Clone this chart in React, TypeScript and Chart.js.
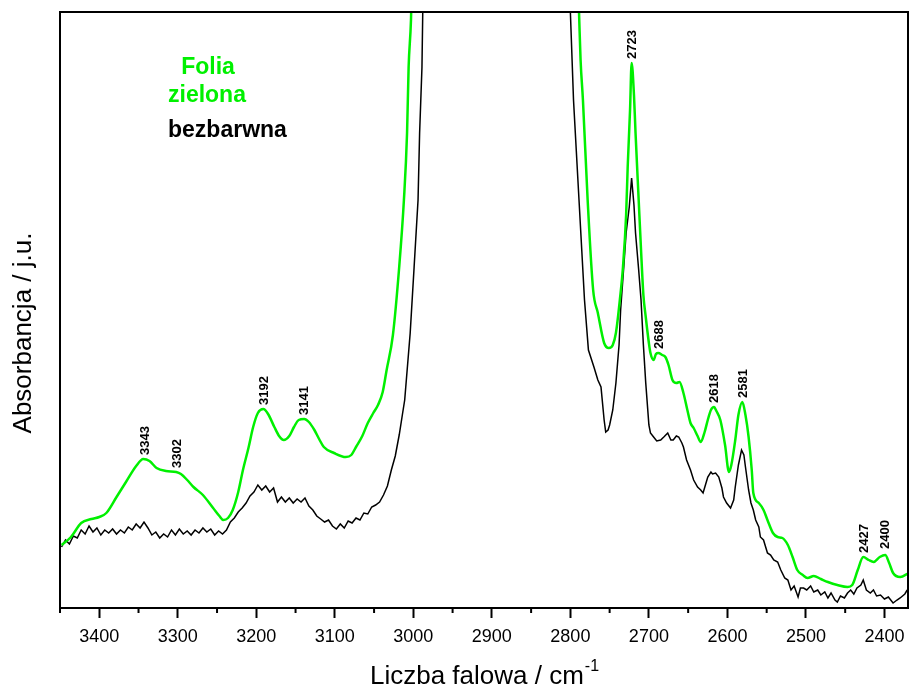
import React, { useEffect, useRef } from "react";
import { Chart, registerables } from "chart.js";

Chart.register(...registerables);

// Green foil ("Folia zielona") – wavenumber (cm-1) and absorbance (a.u.)
const greenWn = [
  3448, 3436, 3423, 3410, 3400, 3391, 3378, 3366, 3353, 3344, 3336, 3327, 3315, 3302, 3296, 3288, 3280, 3268,
  3255, 3247, 3242, 3236, 3230, 3223, 3217, 3210, 3204, 3198, 3191, 3185, 3177, 3171, 3165, 3158, 3152, 3146,
  3139, 3133, 3126, 3120, 3114, 3101, 3086, 3079, 3073, 3065, 3058, 3051, 3045, 3039, 3034, 3026, 3018, 3012,
  3008, 3006, 3003, 2998, 2990, 2796, 2789, 2787, 2784, 2778, 2771, 2765, 2757, 2751, 2746, 2742, 2737, 2733,
  2729, 2727, 2724, 2722, 2719, 2717, 2713, 2710, 2707, 2704, 2700, 2698, 2694, 2691, 2688, 2683, 2679, 2675,
  2670, 2665, 2661, 2656, 2651, 2647, 2643, 2638, 2634, 2629, 2625, 2621, 2617, 2614, 2609, 2603, 2598, 2595,
  2590, 2586, 2581, 2577, 2573, 2569, 2567, 2560, 2554, 2549, 2542, 2536, 2530, 2523, 2517, 2511, 2504, 2498,
  2490, 2481, 2472, 2460, 2447, 2441, 2434, 2427, 2420, 2414, 2406, 2399, 2394, 2389, 2380, 2369,
];
const greenAbs = [
  0.063, 0.071, 0.085, 0.089, 0.091, 0.095, 0.111, 0.126, 0.142, 0.149, 0.147, 0.14, 0.137, 0.136, 0.134, 0.128, 0.121, 0.113,
  0.1, 0.092, 0.088, 0.09, 0.098, 0.116, 0.138, 0.16, 0.181, 0.195, 0.199, 0.194, 0.181, 0.172, 0.168, 0.172, 0.181, 0.188,
  0.189, 0.186, 0.178, 0.169, 0.161, 0.155, 0.151, 0.153, 0.161, 0.172, 0.185, 0.195, 0.203, 0.216, 0.238, 0.273, 0.341, 0.408,
  0.475, 0.541, 0.588, 0.75, 0.95, 0.75, 0.596, 0.548, 0.508, 0.408, 0.318, 0.295, 0.265, 0.26, 0.263, 0.275, 0.308, 0.341,
  0.393, 0.441, 0.498, 0.545, 0.513, 0.475, 0.408, 0.358, 0.313, 0.291, 0.265, 0.255, 0.248, 0.254, 0.255, 0.253, 0.251, 0.243,
  0.228, 0.225, 0.226, 0.215, 0.198, 0.185, 0.18, 0.172, 0.166, 0.176, 0.188, 0.198, 0.201, 0.197, 0.188, 0.163, 0.136, 0.143,
  0.168, 0.193, 0.206, 0.193, 0.171, 0.138, 0.115, 0.105, 0.098, 0.088, 0.075, 0.071, 0.07, 0.063, 0.051, 0.038, 0.033, 0.03,
  0.032, 0.029, 0.026, 0.023, 0.021, 0.023, 0.038, 0.051, 0.048, 0.046, 0.051, 0.053, 0.045, 0.035, 0.031, 0.035,
];

// Colourless foil ("bezbarwna")
const blackWn = [
  3448, 3443, 3438, 3433, 3428, 3423, 3418, 3413, 3408, 3403, 3398, 3393, 3388, 3383, 3378, 3373, 3368, 3363, 3358, 3353,
  3348, 3343, 3338, 3333, 3328, 3323, 3318, 3313, 3308, 3303, 3298, 3293, 3288, 3283, 3278, 3273, 3268, 3263, 3258, 3253,
  3248, 3243, 3238, 3233, 3228, 3223, 3218, 3213, 3208, 3203, 3198, 3193, 3188, 3183, 3178, 3173, 3168, 3163, 3158, 3153,
  3148, 3143, 3138, 3133, 3128, 3123, 3118, 3113, 3108, 3103, 3098, 3093, 3088, 3083, 3078, 3073, 3068, 3063, 3058, 3053,
  3048, 3043, 3038, 3033, 3028, 3023, 3018, 3014, 3011, 3004, 2999, 2994, 2992, 2989, 2988, 2984, 2975,
  2808, 2803, 2800, 2796, 2789, 2782, 2777, 2770, 2765, 2761, 2757, 2755, 2752, 2750, 2746, 2742, 2738, 2736, 2732, 2729,
  2725, 2722, 2719, 2717, 2713, 2710, 2707, 2704, 2700, 2698, 2694, 2690, 2685, 2681, 2676, 2672, 2669, 2665, 2662, 2658,
  2656, 2652, 2647, 2643, 2638, 2634, 2631, 2628, 2625, 2621, 2619, 2615, 2611, 2607, 2605, 2601, 2596, 2592, 2590, 2586,
  2582, 2579, 2577, 2573, 2570, 2567, 2564, 2560, 2558, 2554, 2549, 2545, 2541, 2536, 2532, 2527, 2523, 2519, 2515, 2510,
  2507, 2503, 2499, 2494, 2490, 2485, 2481, 2476, 2472, 2468, 2463, 2460, 2456, 2451, 2447, 2443, 2439, 2435, 2430, 2427,
  2423, 2418, 2414, 2410, 2405, 2400, 2395, 2389, 2384, 2380, 2374, 2371,
];
const blackAbs = [
  0.061, 0.068, 0.064, 0.072, 0.07, 0.078, 0.074, 0.082, 0.076, 0.08, 0.073, 0.078, 0.075, 0.079, 0.074, 0.078, 0.075, 0.081, 0.078, 0.084,
  0.08, 0.086, 0.08, 0.073, 0.076, 0.07, 0.074, 0.071, 0.078, 0.073, 0.079, 0.074, 0.077, 0.073, 0.078, 0.075, 0.08, 0.076, 0.079, 0.073,
  0.077, 0.074, 0.078, 0.086, 0.09, 0.096, 0.1, 0.105, 0.112, 0.116, 0.123, 0.118, 0.122, 0.116, 0.12, 0.106, 0.111, 0.106, 0.11, 0.105,
  0.109, 0.106, 0.11, 0.102, 0.098, 0.092, 0.089, 0.086, 0.088, 0.082, 0.079, 0.084, 0.08, 0.087, 0.085, 0.09, 0.088, 0.095, 0.094, 0.101,
  0.103, 0.106, 0.113, 0.122, 0.138, 0.152, 0.173, 0.193, 0.208, 0.275, 0.341, 0.408, 0.475, 0.541, 0.596, 0.75, 0.95,
  0.95, 0.75, 0.596, 0.508, 0.408, 0.308, 0.258, 0.241, 0.228, 0.221, 0.188, 0.176, 0.178, 0.183, 0.198, 0.225, 0.263, 0.298, 0.341, 0.375,
  0.401, 0.43, 0.403, 0.375, 0.338, 0.308, 0.263, 0.225, 0.183, 0.175, 0.171, 0.167, 0.168, 0.171, 0.175, 0.168, 0.168, 0.172, 0.171, 0.165,
  0.161, 0.148, 0.138, 0.128, 0.121, 0.118, 0.115, 0.123, 0.131, 0.136, 0.134, 0.135, 0.131, 0.12, 0.111, 0.105, 0.1, 0.108, 0.121, 0.143,
  0.158, 0.153, 0.141, 0.118, 0.105, 0.098, 0.088, 0.081, 0.071, 0.068, 0.055, 0.053, 0.048, 0.046, 0.038, 0.03, 0.028, 0.018, 0.022, 0.011,
  0.02, 0.02, 0.018, 0.022, 0.016, 0.018, 0.013, 0.016, 0.01, 0.015, 0.008, 0.006, 0.012, 0.01, 0.015, 0.018, 0.014, 0.02, 0.023, 0.028,
  0.018, 0.015, 0.018, 0.012, 0.013, 0.009, 0.011, 0.005, 0.008, 0.01, 0.014, 0.018,
];

const xMajorTicks = [3400, 3300, 3200, 3100, 3000, 2900, 2800, 2700, 2600, 2500, 2400];
const xMinorTicks = [3450, 3350, 3250, 3150, 3050, 2950, 2850, 2750, 2650, 2550, 2450];

const peakWn = [3343, 3302, 3192, 3141, 2723, 2688, 2618, 2581, 2427, 2400];
const peakAbs = [0.149, 0.136, 0.199, 0.189, 0.545, 0.255, 0.201, 0.206, 0.051, 0.055];

const FONT = "'Liberation Sans', Arial, Helvetica, sans-serif";
const GREEN = "#00f000";

export default function App() {
  const ref = useRef<HTMLCanvasElement | null>(null);

  useEffect(() => {
    if (!ref.current) return;
    const majorSet = new Set(xMajorTicks);

    const decor = {
      id: "decor",
      afterDraw(chart: any) {
        const ctx = chart.ctx as CanvasRenderingContext2D;
        const { left, right, top, bottom } = chart.chartArea;
        const xs = chart.scales.x;
        const ys = chart.scales.y;
        ctx.save();
        // frame
        ctx.strokeStyle = "#000";
        ctx.lineWidth = 2;
        ctx.strokeRect(left, top, right - left, bottom - top);
        // minor ticks
        ctx.lineWidth = 2;
        xMinorTicks.forEach((v) => {
          const px = xs.getPixelForValue(v);
          ctx.beginPath();
          ctx.moveTo(px, bottom);
          ctx.lineTo(px, bottom + 5);
          ctx.stroke();
        });
        // x title with superscript
        ctx.fillStyle = "#000";
        ctx.textBaseline = "alphabetic";
        ctx.textAlign = "left";
        const mainTxt = "Liczba falowa / cm";
        ctx.font = `26px ${FONT}`;
        const w1 = ctx.measureText(mainTxt).width;
        ctx.font = `16px ${FONT}`;
        const w2 = ctx.measureText("-1").width;
        const cx = (left + right) / 2;
        const sx = cx - (w1 + w2) / 2;
        ctx.font = `26px ${FONT}`;
        ctx.fillText(mainTxt, sx, 684);
        ctx.font = `16px ${FONT}`;
        ctx.fillText("-1", sx + w1 + 1, 671);
        // y title
        ctx.save();
        ctx.translate(31, 333);
        ctx.rotate(-Math.PI / 2);
        ctx.font = `26px ${FONT}`;
        ctx.textAlign = "center";
        ctx.fillText("Absorbancja / j.u.", 0, 0);
        ctx.restore();
        // legend text
        ctx.font = `bold 23px ${FONT}`;
        ctx.fillStyle = GREEN;
        ctx.textAlign = "center";
        ctx.fillText("Folia", 208, 74);
        ctx.textAlign = "left";
        ctx.fillText("zielona", 168, 102);
        ctx.fillStyle = "#000";
        ctx.fillText("bezbarwna", 168, 137);
        // peak labels
        ctx.font = `bold 13px ${FONT}`;
        ctx.fillStyle = "#000";
        peakWn.forEach((wn, i) => {
          const px = xs.getPixelForValue(wn);
          const py = ys.getPixelForValue(peakAbs[i]);
          ctx.save();
          ctx.translate(px + 5, py - 4);
          ctx.rotate(-Math.PI / 2);
          ctx.textAlign = "left";
          ctx.fillText(String(wn), 0, 0);
          ctx.restore();
        });
        ctx.restore();
      },
    };

    const chart = new Chart(ref.current, {
      type: "line",
      data: {
        datasets: [
          {
            label: "Folia zielona",
            data: greenWn.map((x, i) => ({ x, y: greenAbs[i] })),
            borderColor: GREEN,
            borderWidth: 2.5,
            pointRadius: 0,
            cubicInterpolationMode: "monotone",
            fill: false,
          },
          {
            label: "bezbarwna",
            data: blackWn.map((x, i) => ({ x, y: blackAbs[i] })),
            borderColor: "#000",
            borderWidth: 1.5,
            pointRadius: 0,
            tension: 0,
            fill: false,
          },
        ],
      },
      options: {
        responsive: false,
        animation: false,
        devicePixelRatio: 1,
        layout: { padding: { top: 12, right: 2, left: 0, bottom: 0 } },
        plugins: { legend: { display: false }, tooltip: { enabled: false }, title: { display: false } },
        scales: {
          x: {
            type: "linear",
            reverse: true,
            min: 2370,
            max: 3450,
            afterBuildTicks: (scale: any) => {
              scale.ticks = [...xMajorTicks].sort((a, b) => a - b).map((v) => ({ value: v }));
            },
            afterFit: (scale: any) => {
              scale.height = 83;
            },
            ticks: {
              autoSkip: false,
              maxRotation: 0,
              padding: 8,
              color: "#000",
              font: { family: FONT, size: 18 },
              callback: (v: any) => (majorSet.has(Number(v)) ? String(v) : ""),
            },
            grid: {
              display: true,
              drawOnChartArea: false,
              drawTicks: true,
              tickLength: 10,
              tickWidth: 2,
              tickColor: "#000",
            },
            border: { display: false },
          },
          y: {
            min: 0,
            max: 0.596,
            ticks: { display: false },
            grid: { display: false },
            border: { display: false },
            afterFit: (scale: any) => {
              scale.width = 60;
            },
          },
        },
      },
      plugins: [decor],
    } as any);

    return () => chart.destroy();
  }, []);

  return (
    <div style={{ position: "fixed", left: 0, top: 0, width: 910, height: 691, background: "#fff" }}>
      <canvas ref={ref} width={910} height={691} />
    </div>
  );
}
